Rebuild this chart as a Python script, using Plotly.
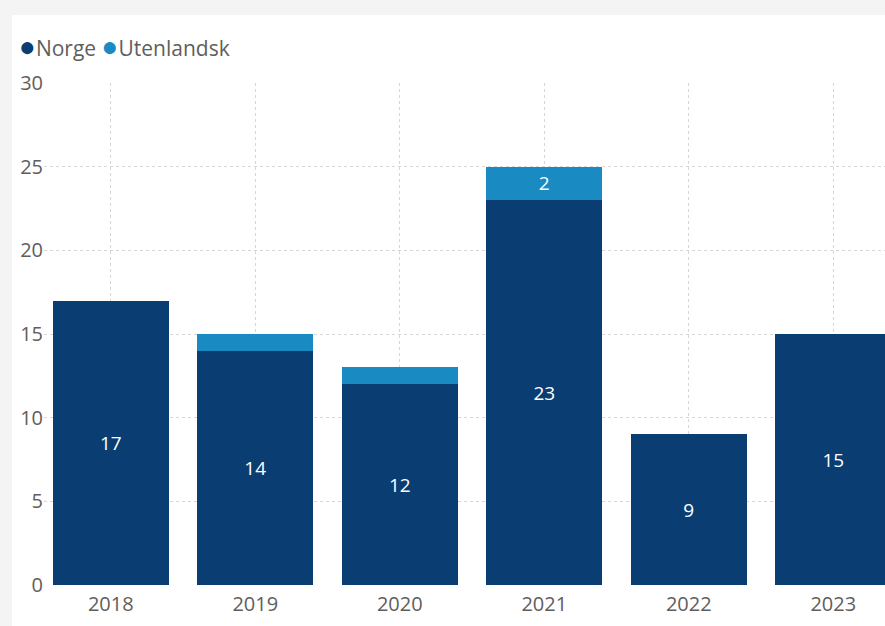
import plotly.graph_objects as go

years = ["2018", "2019", "2020", "2021", "2022", "2023"]
norge = [17, 14, 12, 23, 9, 15]
utenlandsk = [0, 1, 1, 2, 0, 0]
series_names = ["Norge", "Utenlandsk"]
series_colors = ["#0A3D72", "#1A8AC2"]
y_ticks = [0, 5, 10, 15, 20, 25, 30]

FONT = "Segoe UI, Open Sans, sans-serif"

fig = go.Figure()
for name, vals, col in zip(series_names, [norge, utenlandsk], series_colors):
    fig.add_trace(go.Bar(
        x=years, y=vals, name=name, marker=dict(color=col, line=dict(width=0)),
        text=vals, texttemplate="%{text}", textposition="inside",
        insidetextanchor="middle", textangle=0,
        textfont=dict(color="white", size=19, family=FONT),
        showlegend=False, hoverinfo="x+y+name",
    ))

legend_text = " ".join(
    f"<span style='color:{c};font-size:28px'>●</span>{n}"
    for n, c in zip(series_names, series_colors)
)

L, T, B, W, H = 44, 83, 41, 885, 626
pw, ph = W - L, H - T - B

fig.update_layout(
    width=W, height=H,
    margin=dict(l=L, r=0, t=T, b=B),
    barmode="stack", bargap=0.2,
    paper_bgcolor="#f4f4f4", plot_bgcolor="white",
    font=dict(family=FONT, color="#605E5C", size=20),
    uniformtext=dict(mode="hide", minsize=19),
    xaxis=dict(
        type="category", range=[-0.462, 5.358],
        showgrid=True, gridcolor="#d6d6d6", griddash="dot", gridwidth=1,
        showline=False, zeroline=False, ticks="", ticklabelstandoff=5,
        tickfont=dict(size=20, color="#605E5C"),
    ),
    yaxis=dict(
        range=[0, 30], tickvals=y_ticks,
        showgrid=True, gridcolor="#d6d6d6", griddash="dot", gridwidth=1,
        zeroline=False, showline=False, ticks="",
        tickfont=dict(size=20, color="#605E5C"),
    ),
    shapes=[dict(
        type="rect", xref="paper", yref="paper", layer="below",
        x0=(12 - L) / pw, x1=1.2, y0=-0.2, y1=(H - B - 15) / ph,
        fillcolor="white", line=dict(width=0),
    )],
    annotations=[dict(
        xref="paper", yref="paper", x=(17 - L) / pw, y=(H - B - 45) / ph,
        xanchor="left", yanchor="middle", showarrow=False,
        text=legend_text, font=dict(size=21, color="#605E5C", family=FONT),
    )],
)

fig.write_html("out.html")
